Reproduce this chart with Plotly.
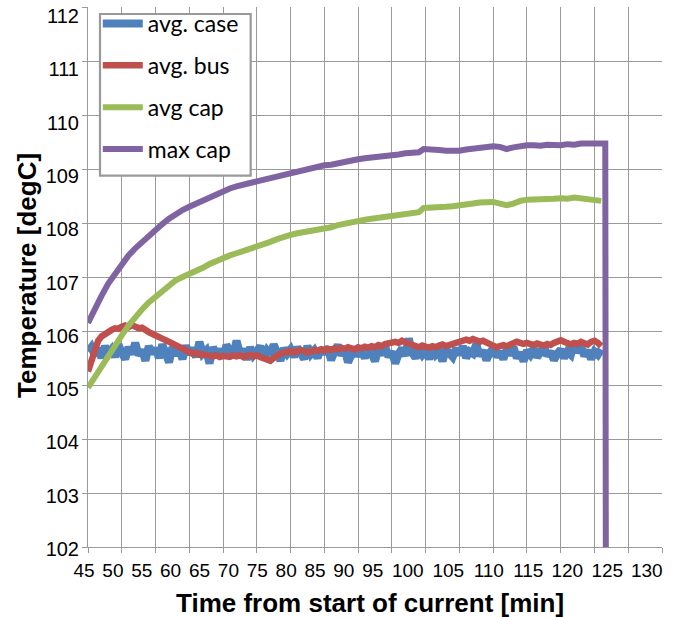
import plotly.graph_objects as go

# ---------------- data ----------------
sample_start = 45.0     # min
sample_step = 0.5       # min, sampling interval of the noisy series

avg_case = [
    105.62, 105.70, 105.55, 105.68, 105.50, 105.72, 105.58, 105.66, 105.52, 105.75,
    105.60, 105.48, 105.70, 105.57, 105.78, 105.55, 105.65, 105.45, 105.72, 105.58,
    105.68, 105.50, 105.75, 105.60, 105.42, 105.70, 105.55, 105.66, 105.48, 105.73,
    105.57, 105.68, 105.52, 105.80, 105.58, 105.64, 105.40, 105.70, 105.56, 105.66,
    105.50, 105.74, 105.60, 105.54, 105.82, 105.58, 105.66, 105.47, 105.70, 105.55,
    105.62, 105.72, 105.50, 105.64, 105.56, 105.75, 105.60, 105.45, 105.68, 105.58,
    105.66, 105.52, 105.70, 105.60, 105.48, 105.72, 105.57, 105.64, 105.50, 105.68,
    105.58, 105.70, 105.46, 105.62, 105.74, 105.55, 105.66, 105.42, 105.60, 105.68,
    105.54, 105.64, 105.50, 105.70, 105.58, 105.44, 105.66, 105.56, 105.72, 105.52,
    105.62, 105.40, 105.58, 105.68, 105.54, 105.86, 105.60, 105.50, 105.66, 105.56,
    105.64, 105.48, 105.70, 105.56, 105.62, 105.44, 105.66, 105.58, 105.52, 105.68,
    105.56, 105.72, 105.50, 105.62, 105.58, 105.76, 105.54, 105.64, 105.46, 105.60,
    105.68, 105.52, 105.62, 105.48, 105.66, 105.56, 105.70, 105.50, 105.60, 105.44,
    105.64, 105.56, 105.68, 105.52, 105.60, 105.74, 105.54, 105.62, 105.46, 105.58,
    105.66, 105.50, 105.62, 105.56, 105.80, 105.60, 105.72, 105.54, 105.64, 105.48,
    105.62, 105.56, 105.66,
]

avg_bus = [
    105.25, 105.45, 105.65, 105.82, 105.90, 105.95, 106.00, 106.02, 106.05, 106.04,
    106.08, 106.10, 106.07, 106.11, 106.08, 106.05, 106.06, 106.00, 105.98, 105.95,
    105.93, 105.88, 105.86, 105.83, 105.80, 105.76, 105.72, 105.68, 105.66, 105.63,
    105.60, 105.58, 105.60, 105.56, 105.57, 105.55, 105.56, 105.53, 105.55, 105.52,
    105.54, 105.53, 105.52, 105.55, 105.53, 105.55, 105.52, 105.54, 105.56, 105.53,
    105.55, 105.52, 105.50, 105.47, 105.45, 105.50, 105.55, 105.58, 105.60, 105.62,
    105.63, 105.60, 105.62, 105.65, 105.63, 105.60, 105.62, 105.65, 105.63, 105.66,
    105.64, 105.67, 105.65, 105.68, 105.66, 105.69, 105.67, 105.70, 105.68, 105.66,
    105.70, 105.68, 105.71, 105.69, 105.72, 105.70, 105.74, 105.72, 105.76, 105.78,
    105.77, 105.80, 105.78, 105.82, 105.79, 105.76, 105.74, 105.72, 105.70, 105.73,
    105.71, 105.69, 105.72, 105.70, 105.73, 105.75, 105.72, 105.74, 105.77, 105.79,
    105.80, 105.82, 105.84, 105.82, 105.85, 105.83, 105.80, 105.82, 105.78, 105.75,
    105.73, 105.70, 105.72, 105.74, 105.72, 105.75, 105.77, 105.80, 105.78, 105.76,
    105.78, 105.76, 105.74, 105.77, 105.75, 105.73, 105.76, 105.74, 105.78, 105.81,
    105.83, 105.80, 105.78, 105.75, 105.78, 105.76, 105.80, 105.77, 105.75, 105.80,
    105.82, 105.78, 105.72,
]

avg_cap_time = list(range(45, 95)) + [94.7] + list(range(95, 122))
avg_cap = [
    104.95, 105.15, 105.36, 105.56, 105.75, 105.92, 106.10, 106.26, 106.40, 106.53,
    106.64, 106.75, 106.86, 106.94, 107.00, 107.05, 107.10, 107.17, 107.24, 107.30,
    107.36, 107.40, 107.44, 107.48, 107.52, 107.55, 107.60, 107.65, 107.70, 107.75,
    107.78, 107.81, 107.83, 107.86, 107.88, 107.90, 107.92, 107.96, 107.99, 108.02,
    108.04, 108.06, 108.08, 108.10, 108.12, 108.13, 108.15, 108.17, 108.19, 108.20,
    108.28,
    108.28, 108.29, 108.30, 108.30, 108.31, 108.32, 108.34, 108.36, 108.38, 108.38,
    108.39, 108.36, 108.33, 108.36, 108.41, 108.43, 108.43, 108.44, 108.44, 108.45,
    108.46, 108.45, 108.47, 108.46, 108.45, 108.43, 108.41,
]

max_cap_time = list(range(45, 95)) + [94.7] + list(range(95, 122)) + [121.6, 121.7]
max_cap = [
    106.15, 106.42, 106.65, 106.88, 107.07, 107.25, 107.40, 107.53, 107.65, 107.77,
    107.88, 107.98, 108.08, 108.17, 108.24, 108.30, 108.36, 108.42, 108.48, 108.54,
    108.60, 108.64, 108.68, 108.72, 108.74, 108.77, 108.80, 108.83, 108.86, 108.90,
    108.93, 108.95, 108.98, 109.01, 109.04, 109.07, 109.08, 109.11, 109.14, 109.17,
    109.18, 109.20, 109.21, 109.23, 109.25, 109.26, 109.27, 109.29, 109.30, 109.31,
    109.37,
    109.37, 109.36, 109.35, 109.34, 109.33, 109.34, 109.36, 109.38, 109.40, 109.41,
    109.42, 109.41, 109.37, 109.40, 109.43, 109.44, 109.44, 109.43, 109.45, 109.44,
    109.44, 109.46, 109.45, 109.47, 109.46, 109.47, 109.47,
    109.47, 100.0,
]

series_names = ["avg. case", "avg. bus", "avg cap", "max cap"]
series_colors = ["#4F81BD", "#C0504D", "#9BBB59", "#8064A2"]

x_grid_ticks = list(range(45, 131, 5))
x_tick_labels = [str(v) for v in x_grid_ticks]
y_grid_ticks = list(range(102, 113))
y_tick_labels = [str(v) for v in y_grid_ticks]

# layout only: where the (packed) tick labels sit in the source, in axis units
x_label_pos = [45.0, 49.28, 53.56, 57.82, 62.10, 66.38, 70.66, 74.94, 79.20,
               83.48, 87.76, 92.95, 98.94, 104.94, 110.79, 116.57, 122.49, 128.34]
y_label_pos = [102.0, 102.987, 103.974, 104.961, 105.948, 106.935,
               107.922, 108.909, 109.896, 110.883, 111.870]

# ---------------- figure ----------------
case_time = [sample_start + sample_step * i for i in range(len(avg_case))]
bus_time = [sample_start + sample_step * i for i in range(len(avg_bus))]

fig = go.Figure()
xs = [case_time, bus_time, avg_cap_time, max_cap_time]
ys = [avg_case, avg_bus, avg_cap, max_cap]
widths = [8, 6.5, 6, 6]
for i, (name, col) in enumerate(zip(series_names, series_colors)):
    fig.add_trace(go.Scatter(
        x=xs[i], y=ys[i], mode="lines", name=name,
        line=dict(color=col, width=widths[i]), legendgroup=name,
    ))

GRID = "#9a9a9a"
fig.update_layout(
    width=683, height=617, autosize=False,
    margin=dict(l=88, r=21, t=7, b=70, pad=0, autoexpand=False),
    paper_bgcolor="white", plot_bgcolor="white",
    font=dict(family="Liberation Sans, Arial, sans-serif", color="black"),
    showlegend=True,
    legend=dict(
        xref="container", yref="container",
        x=0.1432, y=0.9968, xanchor="left", yanchor="top",
        bgcolor="rgba(0,0,0,0)", borderwidth=0,
        font=dict(family="Lato, Carlito, Calibri, sans-serif", size=23, color="black"),
        traceorder="grouped", tracegroupgap=9, itemwidth=40,
    ),
    xaxis=dict(
        range=[45, 130], tickmode="array", tickvals=x_grid_ticks,
        showticklabels=False, ticks="outside", ticklen=5, tickcolor=GRID, tickwidth=1.3,
        showgrid=True, gridcolor=GRID, gridwidth=1.3,
        showline=True, linecolor=GRID, linewidth=1.3, zeroline=False,
    ),
    xaxis2=dict(
        overlaying="x", anchor="y", side="bottom",
        range=[45, 130], tickmode="array", tickvals=x_label_pos, ticktext=x_tick_labels,
        ticks="", showgrid=False, showline=False, zeroline=False,
        tickfont=dict(family="Liberation Sans Narrow, Arial Narrow, Liberation Sans, sans-serif",
                      size=19, color="black"),
        ticklabelshift=-4, ticklabelstandoff=10, ticklabeloverflow="allow",
    ),
    yaxis=dict(
        range=[102, 112], tickmode="array", tickvals=y_grid_ticks,
        showticklabels=False,
        ticks="outside", ticklen=5, tickcolor=GRID, tickwidth=1.3,
        showgrid=True, gridcolor=GRID, gridwidth=1.3,
        showline=True, linecolor=GRID, linewidth=1.3, zeroline=False,
    ),
    yaxis2=dict(
        overlaying="y", anchor="x", side="left",
        range=[102, 112], tickmode="array", tickvals=y_label_pos, ticktext=y_tick_labels,
        ticks="", showgrid=False, showline=False, zeroline=False,
        tickfont=dict(size=20, color="black"),
        ticklabelshift=2, ticklabelstandoff=8, ticklabeloverflow="allow",
    ),
)

# invisible trace so that the label axes are drawn
fig.add_trace(go.Scatter(x=[45], y=[102], xaxis="x2", yaxis="y2", mode="markers",
                         marker=dict(opacity=0), showlegend=False, hoverinfo="skip"))

# legend frame (white box with grey border, as in the source)
fig.add_shape(type="rect", xref="paper", yref="paper",
              x0=0.0209, x1=0.2834, y0=0.6876, y1=0.987,
              line=dict(color="#999999", width=2.2), fillcolor="white", layer="above")

fig.add_annotation(text="<b>Time from start of current [min]</b>", xref="paper", yref="paper",
                   x=0.491, y=-0.1037, xanchor="center", yanchor="middle", showarrow=False,
                   font=dict(size=26, family="Liberation Sans, Arial, sans-serif"))
fig.add_annotation(text="<b>Temperature [degC]</b>", xref="paper", yref="paper",
                   x=-0.1063, y=0.5037, xanchor="center", yanchor="middle", showarrow=False,
                   textangle=-90,
                   font=dict(size=26, family="Liberation Sans, Arial, sans-serif"))

fig.write_html("out.html")
